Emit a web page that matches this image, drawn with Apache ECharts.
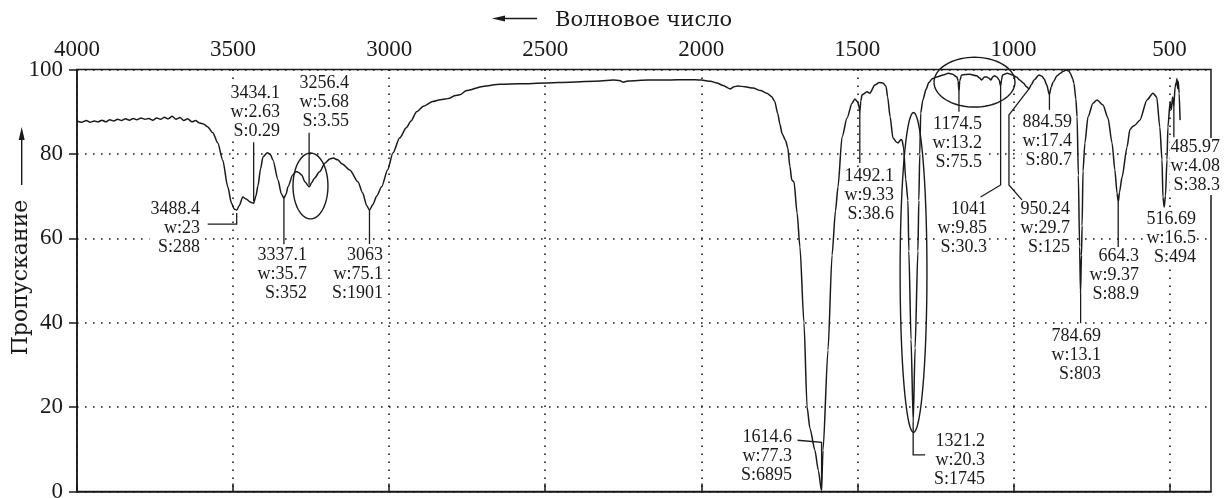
<!DOCTYPE html>
<html><head><meta charset="utf-8">
<script src="https://cdn.jsdelivr.net/npm/echarts@6/dist/echarts.min.js"></script>
<style>html,body{margin:0;padding:0;background:#fff}#c{width:1224px;height:498px}</style>
</head><body><div id="c"></div>
<script>
// ---- spectrum data (wavenumber, % transmittance) ----
const waveNumbers = [4000,3985,3970,3958,3945,3932,3920,3908,3895,3882,3870,3857,3845,3832,3820,3808,3795,3782,3770,3757,3745,3732,3720,3708,3695,3683,3670,3658,3645,3632,3620,3607,3595,3581,3565,3549,3533,3517,3505,3496,3488,3480,3469,3458,3445,3434,3427,3420,3412,3404,3390,3380,3372,3356,3345,3337,3330,3324,3309,3298,3290,3280,3270,3256,3248,3240,3222,3206,3190,3179,3165,3150,3126,3100,3085,3072,3063,3052,3040,3024,3005,2988,2966,2945,2930,2912,2890,2860,2840,2820,2806,2790,2774,2752,2700,2645,2580,2500,2420,2324,2282,2262,2250,2235,2170,2110,2040,2000,1970,1950,1930,1908,1895,1883,1860,1834,1810,1790,1775,1765,1755,1748,1741,1730,1723,1716,1710,1703,1693,1684,1671,1661,1652,1636,1625,1615,1610,1594,1581,1570,1562,1549,1533,1517,1508,1499,1494,1492,1489,1485,1469,1460,1444,1430,1418,1408,1403,1395,1386,1375,1370,1360,1357,1352,1345,1338,1335,1328,1321,1315,1306,1303,1300,1297,1290,1280,1271,1260,1246,1225,1208,1195,1181,1177,1174.5,1172,1166,1140,1118,1108,1102,1093,1085,1078,1072,1066,1061,1053,1046,1041,1038,1035,1020,1002,990,980,968,958,950,942,934,918,908,902,893,885,879,873,860,850,840,830,822,817,810,806,800,796,792,788,785,782,780,777,771,761,745,732,713,697,684,675,668,664,660,652,636,627,618,611,595,572,553,541,531,524,521,517,513,508,505,498,494,490,486,482,478,476,474,472,469,466];
const transmittance = [87.8,87.5,87.9,87.5,87.8,87.6,88.0,87.6,88.1,87.8,88.2,87.9,88.3,88.0,88.4,88.1,88.5,88.2,88.4,88.0,88.5,88.2,88.7,88.3,88.9,88.2,88.6,87.9,88.3,87.6,87.9,87.3,87.1,86.4,85.0,82.6,78.5,72.2,68.3,66.9,66.7,67.8,69.8,69.3,68.6,68.3,70.0,72.5,76.5,79.3,80.3,79.8,78.5,73.8,70.5,69.5,70.5,72.2,75.0,75.8,75.6,75.0,73.4,72.2,73.2,74.2,75.8,77.8,78.8,79.0,78.6,77.6,76.2,73.4,70.8,67.8,66.7,68.0,70.0,72.2,76.2,80.2,83.8,86.2,87.8,90.0,91.3,92.4,92.8,93.0,93.2,93.8,94.0,95.0,96.0,96.5,96.6,96.8,97.0,97.3,97.5,97.4,97.0,97.3,97.5,97.5,97.6,97.5,97.2,96.8,96.2,95.4,95.9,96.1,95.9,95.6,95.0,94.4,93.6,92.5,89.6,87.0,84.8,83.2,81.5,77.0,73.8,73.4,66.0,58.0,40.0,20.0,15.0,9.8,5.0,0.3,9.8,33.5,56.0,66.5,72.2,84.0,88.5,92.0,93.0,92.3,91.0,89.9,92.5,94.0,94.7,94.4,96.3,96.9,96.8,96.0,93.5,88.8,83.8,82.8,82.6,83.4,83.3,81.6,74.0,69.0,57.0,36.0,16.5,34.0,57.0,69.0,80.0,89.7,92.8,95.3,96.9,97.8,98.2,98.7,99.1,98.9,98.2,97.3,94.7,97.3,98.7,98.9,98.5,98.0,97.5,98.2,98.2,97.9,97.5,98.3,98.5,98.2,97.6,96.1,97.6,98.7,99.1,98.7,98.2,97.5,96.8,95.9,95.4,96.5,97.5,98.7,98.4,97.8,96.3,94.0,95.8,97.0,98.5,99.1,99.6,99.9,99.6,99.0,97.8,96.7,93.0,88.8,75.0,58.0,47.0,56.0,63.0,76.0,82.6,88.8,92.0,92.8,91.6,88.5,82.6,76.2,70.7,68.6,71.0,74.5,81.6,85.7,86.5,86.8,88.0,92.8,94.4,93.5,86.4,78.6,69.8,67.4,70.0,78.6,86.4,92.3,90.5,93.5,91.5,95.9,97.0,97.8,95.5,97.2,94.4,88.0];

// ---- axis tick labels ----
const xTickValues = [500,1000,1500,2000,2500,3000,3500,4000];
const yTickValues = [0,20,40,60,80,100];

// ---- peak annotations ----
const peakWn    = [3488.4,3434.1,3256.4,3337.1,3063,1614.6,1492.1,1321.2,1174.5,1041,950.24,884.59,784.69,664.3,516.69,485.97];
const peakT     = [66.7,68.3,72.2,69.5,66.7,0.3,89.9,16.5,94.7,96.1,95.4,94.0,47.0,68.6,67.4,92.0];
const peakName  = ['3488.4','3434.1','3256.4','3337.1','3063','1614.6','1492.1','1321.2','1174.5','1041','950.24','884.59','784.69','664.3','516.69','485.97'];
const peakW     = ['23','2.63','5.68','35.7','75.1','77.3','9.33','20.3','13.2','9.85','29.7','17.4','13.1','9.37','16.5','4.08'];
const peakS     = ['288','0.29','3.55','352','1901','6895','38.6','1745','75.5','30.3','125','80.7','803','88.9','494','38.3'];

// ---- layout (pixel offsets from each peak point) ----
const labelOffsets = [[-35.7,-10],[27.4,-119.3],[41,-112.8],[24.1,47.8],[14.5,36],[-28.6,-62.2],[35.2,54.9],[72.8,10.1],[24,23.1],[-12.6,114],[42,111.1],[23.6,18.2],[21.4,33.8],[21.8,45],[32.7,2.9],[47.1,34.7]];
const leaderPaths = [
  [[0,3],[0,14],[-29,14]],
  [[0,-2],[0,-61]],
  [[0,-2],[0,-54]],
  [[0,0],[0,46]],
  [[0,0],[0,34]],
  [[0,0],[0,-48],[-24,-50]],
  [[0,0],[0,51]],
  [[0,0],[0,33],[12,33]],
  [[0,0],[0,20]],
  [[0,0],[0,99],[-20,111]],
  [[0,0],[-20,26],[-20,96],[-7,111]],
  [[0,0],[0,15]],
  [[0,0],[0,30]],
  [[0,0],[0,48]],
  [],
  [[0,0],[0,34]]
];
// ellipses: centre (wavenumber, %T) and half-axes in data units
const ellipseCenters = [[3252,72.4],[1320,51.9],[1124.7,97.0]];
const ellipseRadii   = [[56,7.8],[43,37.9],[129.7,5.9]];

const INK = '#1a1a1a';
const NUM_FONT = '"Liberation Serif", "Times New Roman", serif';
const TITLE_FONT = '"DejaVu Serif", serif';

const chart = echarts.init(document.getElementById('c'), null, {renderer:'canvas'});
const lineData = waveNumbers.map((w,i)=>[w, transmittance[i]]);

chart.setOption({
  animation:false,
  backgroundColor:'#fff',
  grid:{left:77,right:13,top:69.5,bottom:6.5,show:true,borderColor:INK,borderWidth:1.5,backgroundColor:'transparent',containLabel:false,outerBoundsMode:'none'},
  xAxis:{
    type:'value', position:'top', inverse:true, min:367, max:4000,
    splitNumber:7, minInterval:500, maxInterval:500,
    axisLine:{show:true,lineStyle:{color:INK,width:1.5}},
    axisTick:{show:true,inside:false,length:8,lineStyle:{color:INK,width:1.5},customValues:xTickValues},
    axisLabel:{show:true,margin:8,color:INK,fontFamily:NUM_FONT,fontSize:23,customValues:xTickValues,
      formatter:v=> xTickValues.indexOf(v)>=0 ? String(v) : ''},
    splitLine:{show:true,lineStyle:{color:INK,width:1.6,type:[1.6,6.4]}}
  },
  yAxis:{
    type:'value', min:0, max:100, interval:20,
    axisLine:{show:true,lineStyle:{color:INK,width:1.5}},
    axisTick:{show:true,length:8,lineStyle:{color:INK,width:1.5}},
    axisLabel:{margin:14,color:INK,fontFamily:NUM_FONT,fontSize:23,
      formatter:v=> yTickValues.indexOf(v)>=0 ? String(v) : ''},
    splitLine:{show:true,lineStyle:{color:INK,width:1.6,type:[1.6,6.4]}}
  },
  graphic:[
    {type:'line',shape:{x1:537,y1:18.5,x2:502,y2:18.5},style:{stroke:INK,lineWidth:1.4}},
    {type:'polygon',shape:{points:[[492,18.5],[505,15.5],[505,21.5]]},style:{fill:INK}},
    {type:'text',x:555,y:20.5,style:{text:'Волновое число',font:'21px '+TITLE_FONT,fill:INK,align:'left',textAlign:'left',verticalAlign:'middle',textVerticalAlign:'middle'}},
    {type:'text',x:21,y:277.5,rotation:Math.PI/2,style:{text:'Пропускание',font:'22px '+TITLE_FONT,fill:INK,align:'center',textAlign:'center',verticalAlign:'middle',textVerticalAlign:'middle'}},
    {type:'line',shape:{x1:21.7,y1:185,x2:21.7,y2:138},style:{stroke:INK,lineWidth:1.4}},
    {type:'polygon',shape:{points:[[21.7,127],[18.7,140],[24.7,140]]},style:{fill:INK}}
  ],
  series:[
    {type:'line',data:lineData,showSymbol:false,smooth:0.25,smoothMonotone:'x',
     lineStyle:{color:INK,width:1.5},z:2,silent:true,clip:true},
    {type:'custom',coordinateSystem:'cartesian2d',clip:false,z:3,silent:true,
     data:ellipseCenters.map((c,i)=>[c[0],c[1],i]),
     renderItem:function(params,api){
       const i=params.dataIndex, c=ellipseCenters[i], r=ellipseRadii[i];
       const pts=[];
       for(let k=0;k<=72;k++){const a=k/72*Math.PI*2;pts.push(api.coord([c[0]+r[0]*Math.cos(a),c[1]+r[1]*Math.sin(a)]));}
       return {type:'polyline',shape:{points:pts},style:{stroke:INK,lineWidth:1.4,fill:null}};
     }},
    {type:'custom',coordinateSystem:'cartesian2d',clip:false,z:4,silent:true,
     data:peakWn.map((w,i)=>[w,peakT[i],i]),
     renderItem:function(params,api){
       const i=params.dataIndex;
       const p=api.coord([peakWn[i],peakT[i]]);
       const children=[];
       const path=leaderPaths[i];
       if(path.length>1){
         children.push({type:'polyline',shape:{points:path.map(o=>[p[0]+o[0],p[1]+o[1]])},style:{stroke:INK,lineWidth:1.3,fill:null}});
       }
       const off=labelOffsets[i];
       children.push({type:'text',z2:10,style:{
         text:peakName[i]+'\nw:'+peakW[i]+'\nS:'+peakS[i],
         x:p[0]+off[0],y:p[1]+off[1],font:'18px '+NUM_FONT,fill:INK,
         align:'right',verticalAlign:'top',lineHeight:19,backgroundColor:'#fff',padding:[0,1,0,1]}});
       return {type:'group',children:children};
     }}
  ]
});
</script></body></html>
